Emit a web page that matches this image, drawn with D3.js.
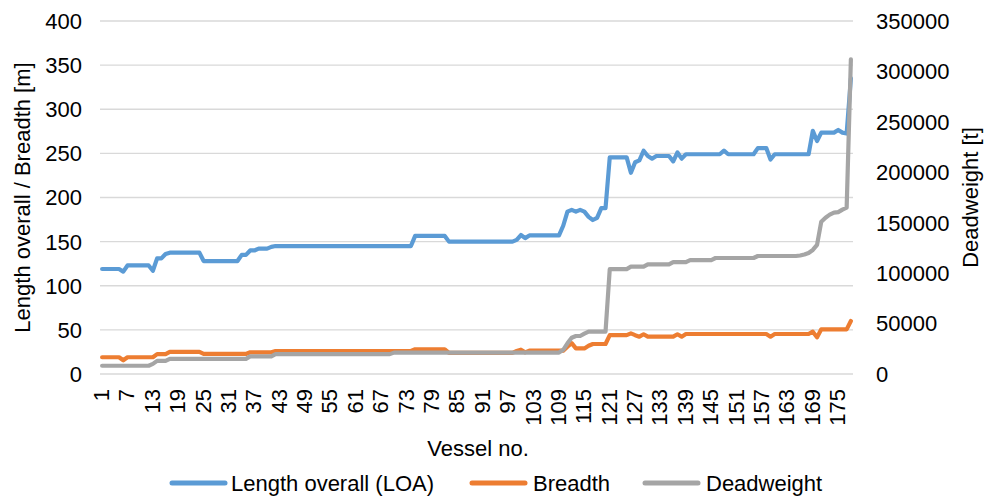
<!DOCTYPE html>
<html>
<head>
<meta charset="utf-8">
<script src="https://cdn.jsdelivr.net/npm/d3@7/dist/d3.min.js"></script>
<style>
  html, body { margin: 0; padding: 0; background: #fff; }
  text { font-family: "Liberation Sans", Arial, sans-serif; fill: #000; }
</style>
</head>
<body>
<svg id="chart" width="985" height="497"></svg>
<script>
// ---- data ----
const loa = [
  119,119,119,119,119,116,123,123,123,123,
  123,123,117,131,131,136,137.5,137.5,137.5,137.5,
  137.5,137.5,137.5,137.5,128,128,128,128,128,128,
  128,128,128,135,135,140,140,142,142,142,
  144,145,145,145,145,145,145,145,145,145,
  145,145,145,145,145,145,145,145,145,145,
  145,145,145,145,145,145,145,145,145,145,
  145,145,145,145,156.5,156.5,156.5,156.5,156.5,156.5,
  156.5,156.5,150,150,150,150,150,150,150,150,
  150,150,150,150,150,150,150,150,152,157.5,
  154,157,157,157,157,157,157,157,157,168,
  184,186,184,186,184,178,174.5,177,188,188,
  245.5,245.5,245.5,245.5,245.5,228,240,242,253,247,
  244,247,247,247,247,241,251,244,249,249,
  249,249,249,249,249,249,249,253,249,249,
  249,249,249,249,249,256,256,256,243,249,
  249,249,249,249,249,249,249,249,275.5,264,
  273.5,273.5,273.5,273.5,276.5,273.5,272.5,335
];
const breadth = [
  19,19,19,19,19,15.5,19,19,19,19,
  19,19,19,22.5,22.5,22.5,25,25,25,25,
  25,25,25,25,22.7,22.7,22.7,22.7,22.7,22.7,
  22.7,22.7,22.7,22.7,22.7,24.6,24.6,24.6,24.6,24.6,
  24.6,26,26,26,26,26,26,26,26,26,
  26,26,26,26,26,26,26,26,26,26,
  26,26,26,26,26,26,26,26,26,26,
  26,26,26,26,28,28,28,28,28,28,
  28,28,24,24,24,24,24,24,24,24,
  24,24,24,24,24,24,24,24,26,27.5,
  24.5,26.5,26.5,26.5,26.5,26.5,26.5,26.5,26.5,26.5,
  31,35,29,29,29,32,34,34,34,34,
  44,44,44,44,44,46,44,42.3,45,42.3,
  42.3,42.3,42.3,42.3,42.3,42.3,45,42.3,45.3,45.3,
  45.3,45.3,45.3,45.3,45.3,45.3,45.3,45.3,45.3,45.3,
  45.3,45.3,45.3,45.3,45.3,45.3,45.3,45.3,42.3,45.3,
  45.3,45.3,45.3,45.3,45.3,45.3,45.3,45.3,48,41.5,
  50.6,50.6,50.6,50.6,50.6,50.6,50.6,60
];
const deadweight = [
  8200,8200,8200,8200,8200,8200,8200,8200,8200,8200,
  8200,8200,10000,13000,13000,13000,15000,15000,15000,15000,
  15000,15000,15000,15000,15000,15000,15000,15000,15000,15000,
  15000,15000,15000,15000,15000,17500,17500,17500,17500,17500,
  17500,19700,19700,19700,19700,19700,19700,19700,19700,19700,
  19700,19700,19700,19700,19700,19700,19700,19700,19700,19700,
  19700,19700,19700,19700,19700,19700,19700,19700,19700,21200,
  21200,21200,21200,21200,21200,21200,21200,21200,21200,21200,
  21200,21200,21200,21200,21200,21200,21200,21200,21200,21200,
  21200,21200,21200,21200,21200,21200,21200,21200,21200,21200,
  21200,21200,21200,21200,21200,21200,21200,21200,21200,24000,
  30400,36000,37700,37700,40000,42000,42000,42000,42000,42000,
  104000,104000,104000,104000,104000,106400,106400,106400,106400,108700,
  108700,108700,108700,108700,108700,111000,111000,111000,111000,113000,
  113000,113000,113000,113000,113000,115000,115000,115000,115000,115000,
  115000,115000,115000,115000,115000,117000,117000,117000,117000,117000,
  117000,117000,117000,117000,117000,117500,118500,120000,123000,128000,
  151000,155000,158000,160000,160500,163000,165000,312000
];
const vessels = loa.map((d, i) => i + 1);
const xTickLabels = [1,7,13,19,25,31,37,43,49,55,61,67,73,79,85,91,97,103,109,115,121,127,133,139,145,151,157,163,169,175];
const leftTicks = [0,50,100,150,200,250,300,350,400];
const rightTicks = [0,50000,100000,150000,200000,250000,300000,350000];
const seriesNames = ["Length overall (LOA)", "Breadth", "Deadweight"];
const colors = ["#5B9BD5", "#ED7D31", "#A5A5A5"];

// ---- layout ----
const svg = d3.select("#chart");
const L = 100, R = 853, T = 21, B = 374;
const FS = 22;

const x = d3.scaleBand().domain(vessels).range([L, R]).padding(0);
const cx = d => x(d) + x.bandwidth() / 2;
const yL = d3.scaleLinear().domain([0, 400]).range([B, T]);
const yR = d3.scaleLinear().domain([0, 350000]).range([B, T]);

// gridlines
svg.append("g").selectAll("line").data(leftTicks).join("line")
  .attr("x1", L).attr("x2", R)
  .attr("y1", d => yL(d)).attr("y2", d => yL(d))
  .attr("stroke", "#D9D9D9").attr("stroke-width", 1.3);

// left axis labels
svg.append("g").selectAll("text").data(leftTicks).join("text")
  .attr("x", 82).attr("y", d => yL(d)).attr("dy", "0.36em")
  .attr("text-anchor", "end").attr("font-size", FS)
  .text(d => d);

// right axis labels
svg.append("g").selectAll("text").data(rightTicks).join("text")
  .attr("x", 876).attr("y", d => yR(d)).attr("dy", "0.36em")
  .attr("text-anchor", "start").attr("font-size", FS)
  .text(d => d);

// x tick labels (rotated)
svg.append("g").selectAll("text").data(xTickLabels).join("text")
  .attr("transform", d => `translate(${cx(d) - 1},389) rotate(-90)`)
  .attr("text-anchor", "end").attr("dy", "0.36em").attr("font-size", FS)
  .text(d => d);

// axis titles
svg.append("text").attr("x", 478).attr("y", 456).attr("text-anchor", "middle")
  .attr("font-size", FS).text("Vessel no.");
svg.append("text").attr("transform", `translate(30,${(T + B) / 2}) rotate(-90)`)
  .attr("text-anchor", "middle").attr("font-size", FS).text("Length overall / Breadth [m]");
svg.append("text").attr("transform", `translate(978,${(T + B) / 2}) rotate(-90)`)
  .attr("text-anchor", "middle").attr("font-size", FS).text("Deadweight [t]");

// lines
const lineL = d3.line().x((d, i) => cx(vessels[i])).y(d => yL(d));
const lineR = d3.line().x((d, i) => cx(vessels[i])).y(d => yR(d));
const series = [
  { vals: loa, gen: lineL },
  { vals: breadth, gen: lineL },
  { vals: deadweight, gen: lineR }
];
svg.append("g").selectAll("path").data(series).join("path")
  .attr("d", s => s.gen(s.vals))
  .attr("fill", "none")
  .attr("stroke", (s, i) => colors[i])
  .attr("stroke-width", 4.2)
  .attr("stroke-linejoin", "round")
  .attr("stroke-linecap", "round");

// legend
const legendItems = [
  { x1: 172, x2: 225, tx: 231 },
  { x1: 472, x2: 525, tx: 533 },
  { x1: 645, x2: 698, tx: 706 }
];
const lg = svg.append("g");
legendItems.forEach((p, i) => {
  lg.append("line").attr("x1", p.x1).attr("x2", p.x2).attr("y1", 483).attr("y2", 483)
    .attr("stroke", colors[i]).attr("stroke-width", 5).attr("stroke-linecap", "round");
  lg.append("text").attr("x", p.tx).attr("y", 491).attr("font-size", FS).text(seriesNames[i]);
});
</script>
</body>
</html>
